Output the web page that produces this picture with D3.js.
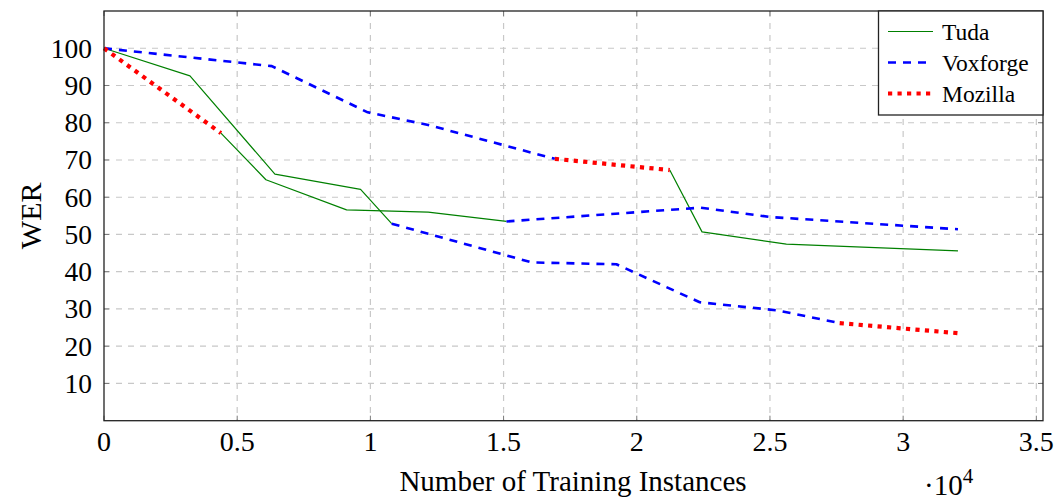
<!DOCTYPE html>
<html lang="en">
<head>
  <meta charset="UTF-8">
  <title>WER vs training instances</title>
<script src="https://d3js.org/d3.v7.min.js"></script>
<style>
  body { margin: 0; background: #fff; }
  text { font-family: "Liberation Serif", "DejaVu Serif", serif; fill: #000; }
</style>
</head>
<body>
<div id="chart"></div>

  <script>

// each series is drawn as three separate pieces (x = training instances, y = WER)
const tudaSegments = [
  [[0, 100], [3227, 92.6], [6416, 66.2], [9632, 62.1], [10800, 52.9]],
  [[4390, 77.2], [6079, 64.7], [9106, 56.6], [12170, 56.0], [15110, 53.5]],
  [[21238, 67.3], [22450, 50.7], [25616, 47.4], [32058, 45.6]]
];
const voxforgeSegments = [
  [[0, 100], [6300, 95.2], [9900, 82.8], [12170, 79.4], [16923, 70.3]],
  [[10800, 52.9], [16049, 42.5], [19235, 42.0], [22364, 31.8], [25300, 29.6], [27617, 26.2]],
  [[15110, 53.5], [22400, 57.2], [24990, 54.7], [32058, 51.4]]
];
const mozillaSegments = [
  [[0, 100], [4390, 77.2]],
  [[16923, 70.3], [21238, 67.3]],
  [[27617, 26.2], [32058, 23.5]]
];
const seriesNames = ['Tuda', 'Voxforge', 'Mozilla'];
const xTicks = [0, 5000, 10000, 15000, 20000, 25000, 30000, 35000];
const yTicks = [10, 20, 30, 40, 50, 60, 70, 80, 90, 100];

const width = 1059;
const height = 502;
const pLeft = 104, pRight = 1043, pTop = 11, pBottom = 420.7;

const x = d3.scaleLinear().domain([0, 35250]).range([pLeft, pRight]);
const y = d3.scaleLinear().domain([0, 110]).range([pBottom, pTop]);

const styles = {
  Tuda: { stroke: '#008000', width: 1.2, dash: null },
  Voxforge: { stroke: '#0000ff', width: 2.6, dash: '8 7' },
  Mozilla: { stroke: '#ff0000', width: 4.2, dash: '4.2 5.3' }
};

const svg = d3.select('#chart')
  .append('svg')
  .attr('width', width)
  .attr('height', height);

// grid
const grid = svg.append('g');
grid.selectAll('.vg')
  .data(xTicks.filter(d => d > 0))
  .enter()
  .append('line')
  .attr('x1', d => x(d)).attr('x2', d => x(d))
  .attr('y1', pTop).attr('y2', pBottom)
  .attr('stroke', '#c8c8c8').attr('stroke-width', 1.2)
  .attr('stroke-dasharray', '6 6');
grid.selectAll('.hg')
  .data(yTicks)
  .enter()
  .append('line')
  .attr('x1', pLeft).attr('x2', pRight)
  .attr('y1', d => y(d)).attr('y2', d => y(d))
  .attr('stroke', '#c8c8c8').attr('stroke-width', 1.2)
  .attr('stroke-dasharray', '6 6');

// ticks (inside, mirrored)
const tk = svg.append('g').attr('stroke', '#7a7a7a').attr('stroke-width', 1);
xTicks.forEach(d => {
  tk.append('line').attr('x1', x(d)).attr('x2', x(d)).attr('y1', pBottom).attr('y2', pBottom - 5);
  tk.append('line').attr('x1', x(d)).attr('x2', x(d)).attr('y1', pTop).attr('y2', pTop + 5);
});
yTicks.forEach(d => {
  tk.append('line').attr('x1', pLeft).attr('x2', pLeft + 5).attr('y1', y(d)).attr('y2', y(d));
  tk.append('line').attr('x1', pRight).attr('x2', pRight - 5).attr('y1', y(d)).attr('y2', y(d));
});

// lines
const line = d3.line().x(d => x(d[0])).y(d => y(d[1]));
const allSeries = [
  ['Tuda', tudaSegments],
  ['Voxforge', voxforgeSegments],
  ['Mozilla', mozillaSegments]
];
allSeries.forEach(([name, segs]) => {
  const s = styles[name];
  svg.append('g').selectAll('path')
    .data(segs)
    .enter()
    .append('path')
    .attr('d', line)
    .attr('fill', 'none')
    .attr('stroke', s.stroke)
    .attr('stroke-width', s.width)
    .attr('stroke-dasharray', s.dash)
    .attr('stroke-linejoin', 'round');
});

// frame
svg.append('rect')
  .attr('x', pLeft).attr('y', pTop)
  .attr('width', pRight - pLeft).attr('height', pBottom - pTop)
  .attr('fill', 'none').attr('stroke', '#222').attr('stroke-width', 1.3);

// tick labels
svg.selectAll('.xl')
  .data(xTicks)
  .enter()
  .append('text')
  .attr('x', d => x(d))
  .attr('y', 451)
  .attr('text-anchor', 'middle')
  .attr('font-size', 28)
  .text(d => d3.format('')(d / 10000));

svg.selectAll('.yl')
  .data(yTicks)
  .enter()
  .append('text')
  .attr('x', 92)
  .attr('y', d => y(d) + 9.5)
  .attr('text-anchor', 'end')
  .attr('font-size', 27.5)
  .text(d => d);

// axis labels
svg.append('text')
  .attr('x', 573)
  .attr('y', 491)
  .attr('text-anchor', 'middle')
  .attr('font-size', 29)
  .text('Number of Training Instances');

svg.append('text')
  .attr('transform', `translate(41, ${(pTop + pBottom) / 2}) rotate(-90)`)
  .attr('text-anchor', 'middle')
  .attr('font-size', 30)
  .text('WER');

const mult = svg.append('text')
  .attr('x', 924)
  .attr('y', 495)
  .attr('font-size', 29);
mult.append('tspan').text('·10');
mult.append('tspan').attr('font-size', 21).attr('dy', -12).text('4');

// legend
const lg = svg.append('g');
lg.append('rect')
  .attr('x', 878.5).attr('y', pTop)
  .attr('width', pRight - 878.5).attr('height', 104)
  .attr('fill', '#fff').attr('stroke', '#222').attr('stroke-width', 1.3);
seriesNames.forEach((name, i) => {
  const s = styles[name];
  const yy = 31.5 + i * 31;
  lg.append('line')
    .attr('x1', 888).attr('x2', 933)
    .attr('y1', yy).attr('y2', yy)
    .attr('stroke', s.stroke)
    .attr('stroke-width', s.width)
    .attr('stroke-dasharray', s.dash);
  lg.append('text')
    .attr('x', 942)
    .attr('y', yy + 8)
    .attr('font-size', 23.5)
    .text(name);
});

  </script>
</body>
</html>
